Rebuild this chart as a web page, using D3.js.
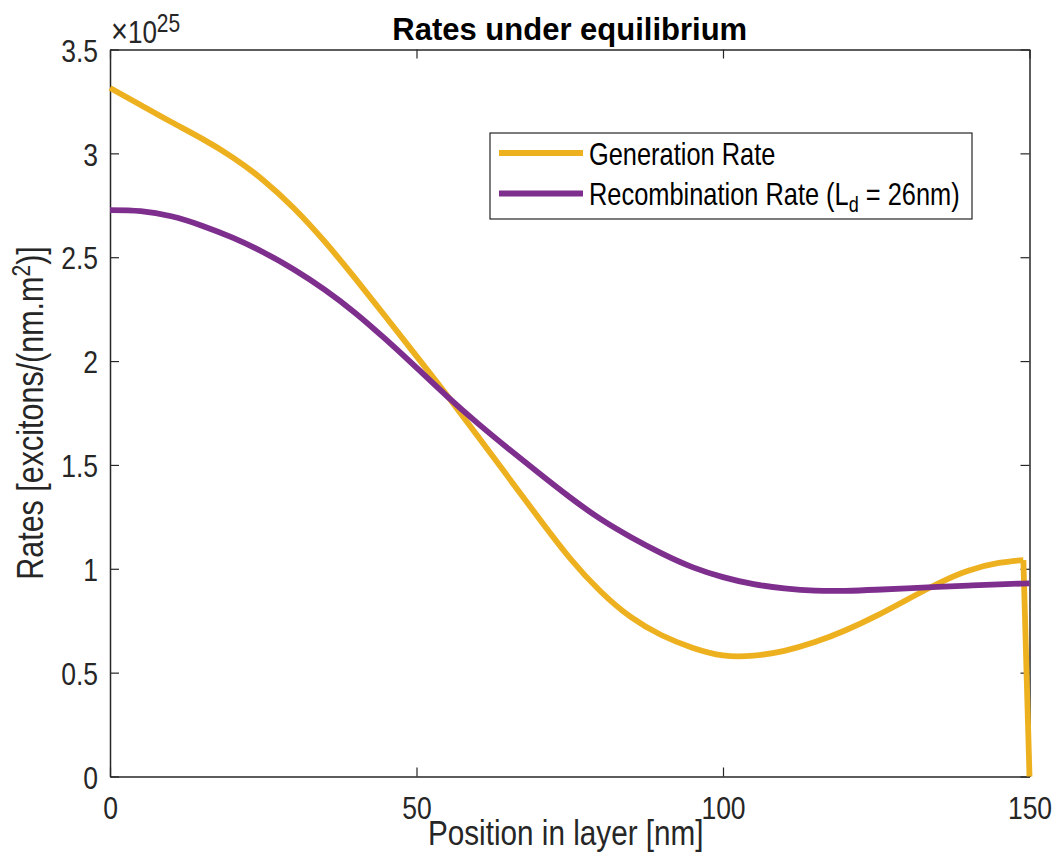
<!DOCTYPE html>
<html>
<head>
<meta charset="utf-8">
<script src="https://cdn.jsdelivr.net/npm/d3@7"></script>
<style>
  body { margin: 0; background: #fff; }
  text { font-family: "Liberation Sans", Arial, Helvetica, sans-serif; }
</style>
</head>
<body>
<div class="container"></div>
<script>
// values, units of 1e25 excitons/(nm.m^2)
var genPositions = [0, 5, 10, 15, 20, 25, 30, 35, 40, 45, 50, 55, 60, 65, 70, 75, 80, 85,
                    90, 95, 100, 105, 110, 115, 120, 125, 130, 135, 140, 145, 149, 150];
var genRate = [3.315, 3.233, 3.151, 3.071, 2.981, 2.871, 2.736, 2.576, 2.398, 2.212, 2.024,
               1.834, 1.638, 1.44, 1.242, 1.052, 0.892, 0.767, 0.68, 0.62, 0.583, 0.582,
               0.605, 0.647, 0.704, 0.773, 0.851, 0.928, 0.991, 1.028, 1.042, 0];

var recPositions = [0, 5, 10, 15, 20, 25, 30, 35, 40, 45, 50, 55, 60, 65, 70, 75, 80, 85,
                    90, 95, 100, 105, 110, 115, 120, 125, 130, 135, 140, 145, 150];
var recRate = [2.727, 2.722, 2.697, 2.652, 2.594, 2.524, 2.441, 2.344, 2.232, 2.104, 1.968,
               1.83, 1.70, 1.578, 1.46, 1.345, 1.24, 1.152, 1.074, 1.008, 0.96, 0.926,
               0.906, 0.895, 0.894, 0.899, 0.906, 0.913, 0.919, 0.925, 0.93];

var xTicks = [0, 50, 100, 150];
var yTicks = [0, 0.5, 1, 1.5, 2, 2.5, 3, 3.5];
var seriesNames = ['Generation Rate', 'Recombination Rate (L', 'd', ' = 26nm)'];
var seriesColors = ['#EDB120', '#7E2F8E'];

var width = 1056, height = 863;
var plotLeft = 110, plotTop = 49.5, plotRight = 1029.5, plotBottom = 776.5;
var axisColor = '#262626';
var stretch = 1.2; // glyphs in the picture are taller than wide

var svg = d3.select('.container').append('svg')
    .attr('width', width).attr('height', height);

var x = d3.scaleLinear().domain([0, 150]).range([plotLeft, plotRight]);
var y = d3.scaleLinear().domain([0, 3.5]).range([plotBottom, plotTop]);

// text helper: put text at (px,py) with the vertical stretch
function label(px, py, str, size, anchor) {
    return svg.append('text')
        .attr('transform', 'translate(' + px + ',' + py + ') scale(1,' + stretch + ')')
        .attr('text-anchor', anchor || 'start')
        .attr('font-size', size)
        .attr('fill', axisColor)
        .text(str);
}

// axes, ticks pointing inward
var xAxis = svg.append('g').attr('transform', 'translate(0,' + plotBottom + ')')
    .call(d3.axisBottom(x).tickValues(xTicks).tickSizeInner(-9).tickSizeOuter(0));
var xTop = svg.append('g').attr('transform', 'translate(0,' + plotTop + ')')
    .call(d3.axisTop(x).tickValues(xTicks).tickSizeInner(-9).tickSizeOuter(0).tickFormat(''));
var yAxis = svg.append('g').attr('transform', 'translate(' + plotLeft + ',0)')
    .call(d3.axisLeft(y).tickValues(yTicks).tickSizeInner(-9).tickSizeOuter(0));
var yRight = svg.append('g').attr('transform', 'translate(' + plotRight + ',0)')
    .call(d3.axisRight(y).tickValues(yTicks).tickSizeInner(-9).tickSizeOuter(0).tickFormat(''));

[xAxis, xTop, yAxis, yRight].forEach(function (g) {
    g.select('.domain').attr('stroke', axisColor).attr('stroke-width', 1.5);
    g.selectAll('.tick line').attr('stroke', axisColor).attr('stroke-width', 1.2);
    g.selectAll('.tick text').attr('fill', axisColor).attr('font-size', 26.5)
        .attr('font-family', '"Liberation Sans", Arial, sans-serif');
});

xAxis.selectAll('.tick text')
    .attr('dy', null)
    .attr('y', (819 - plotBottom) / stretch)
    .attr('transform', 'scale(1,' + stretch + ')');

yAxis.selectAll('.tick text')
    .attr('dy', null)
    .attr('x', -12)
    .attr('y', 9.8)
    .attr('transform', 'scale(1,' + stretch + ')')
    .text(function (d) { return d3.format('')(d); });

// exponent label
var expo = label(111, 43, '', 26, 'start');
expo.append('tspan').attr('font-size', 29).text('\u00d7');
expo.append('tspan').text('10');
expo.append('tspan').attr('font-size', 21).attr('dy', -9).text('25');

// title
svg.append('text')
    .attr('x', (plotLeft + plotRight) / 2).attr('y', 40)
    .attr('text-anchor', 'middle')
    .attr('font-size', 31).attr('font-weight', 'bold').attr('fill', '#000')
    .text('Rates under equilibrium');

// axis labels
label((plotLeft + plotRight) / 2 - 4, 845, 'Position in layer [nm]', 29.7, 'middle');

var yl = svg.append('text')
    .attr('transform', 'translate(43,' + ((plotTop + plotBottom) / 2) + ') rotate(-90) scale(1,' + stretch + ')')
    .attr('text-anchor', 'middle')
    .attr('font-size', 30.5)
    .attr('fill', axisColor);
yl.append('tspan').text('Rates [excitons/(nm.m');
yl.append('tspan').attr('font-size', 21).attr('dy', -11).text('2');
yl.append('tspan').attr('dy', 11).text(')]');

// curves: smooth through the points, the last drop of the generation rate is straight
var smooth = d3.line()
    .x(function (d) { return x(d[0]); })
    .y(function (d) { return y(d[1]); })
    .curve(d3.curveNatural);
var straight = d3.line()
    .x(function (d) { return x(d[0]); })
    .y(function (d) { return y(d[1]); });

var genData = d3.zip(genPositions, genRate);
var recData = d3.zip(recPositions, recRate);

function drawCurve(d, gen, color) {
    svg.append('path').datum(d)
        .attr('d', gen)
        .attr('fill', 'none')
        .attr('stroke', color)
        .attr('stroke-width', 5.8)
        .attr('stroke-linejoin', 'round');
}

drawCurve(genData.slice(0, -1), smooth, seriesColors[0]);
drawCurve(genData.slice(-2), straight, seriesColors[0]);
drawCurve(recData, smooth, seriesColors[1]);

// legend
var legend = svg.append('g');
legend.append('rect')
    .attr('x', 490).attr('y', 133).attr('width', 482).attr('height', 86)
    .attr('fill', '#fff').attr('stroke', axisColor).attr('stroke-width', 1.2);

legend.append('line')
    .attr('x1', 499).attr('x2', 583).attr('y1', 153).attr('y2', 153)
    .attr('stroke', seriesColors[0]).attr('stroke-width', 5.8);
legend.append('line')
    .attr('x1', 499).attr('x2', 583).attr('y1', 193.5).attr('y2', 193.5)
    .attr('stroke', seriesColors[1]).attr('stroke-width', 5.8);

label(589, 165, seriesNames[0], 25.4, 'start').attr('fill', '#000');
var rl = label(589, 205, '', 25.4, 'start').attr('fill', '#000');
rl.append('tspan').text(seriesNames[1]);
rl.append('tspan').attr('font-size', 18).attr('dy', 6).text(seriesNames[2]);
rl.append('tspan').attr('dy', -6).text(seriesNames[3]);
</script>
</body>
</html>
